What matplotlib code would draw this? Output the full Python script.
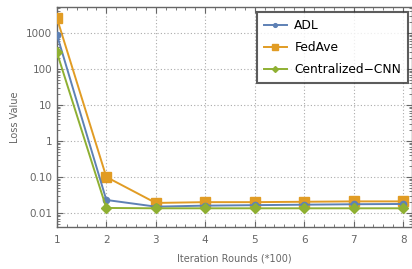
import numpy as np
import matplotlib
matplotlib.use("Agg")
import matplotlib.pyplot as plt
from matplotlib.ticker import FixedLocator, NullFormatter

rounds = [1, 2, 3, 4, 5, 6, 7, 8]
adl = [900, 0.023, 0.015, 0.016, 0.0165, 0.017, 0.0175, 0.0178]
fedave = [2600, 0.10, 0.019, 0.020, 0.020, 0.0205, 0.021, 0.021]
central = [290, 0.0138, 0.0135, 0.0135, 0.0135, 0.0135, 0.0135, 0.0135]

yticks = [0.01, 0.1, 1, 10, 100, 1000]
ytick_labels = ["0.01", "0.10", "1", "10", "100", "1000"]

gray = "#666666"
fig = plt.figure(figsize=(4.12, 2.69), dpi=100)
ax = fig.add_axes([0.138, 0.156, 0.862, 0.818])

ax.plot(rounds, adl, color="#5E81B5", marker="o", ms=4.5, lw=1.4, label="ADL", zorder=4)
ax.plot(rounds, fedave, color="#E19C24", marker="s", ms=7, lw=1.4, label="FedAve", zorder=3)
ax.plot(rounds, central, color="#8FB032", marker="D", ms=5, lw=1.4, label="Centralized\u2212CNN", zorder=5)

ax.set_yscale("log")
ax.set_xlim(1, 8.18)
ax.set_ylim(10 ** -2.39, 10 ** 3.72)
ax.set_xticks(rounds)
ax.xaxis.set_minor_locator(FixedLocator(np.arange(1, 8.2, 0.2)))
ax.set_yticks(yticks)
ax.set_yticklabels(ytick_labels)
ax.yaxis.set_minor_locator(FixedLocator(
    [m * 10.0 ** e for e in range(-3, 4) for m in range(2, 10)]))
ax.yaxis.set_minor_formatter(NullFormatter())

ax.grid(True, which="major", ls=(0, (1, 2)), color="#aaaaaa", lw=0.8)
ax.tick_params(which="both", direction="in", top=True, right=True,
               colors=gray, labelsize=7.5, labelcolor=gray)
ax.tick_params(which="major", length=4, width=0.8)
ax.tick_params(which="minor", length=2, width=0.6)
ax.tick_params(axis="x", pad=6)
for s in ax.spines.values():
    s.set_color(gray)
    s.set_linewidth(1.0)

ax.set_xlabel("Iteration Rounds (*100)", color=gray, fontsize=7, labelpad=6)
ax.set_ylabel("Loss Value", color=gray, fontsize=7, labelpad=4)

leg = ax.legend(loc="upper right", fontsize=8.8, frameon=True, fancybox=False,
                edgecolor="#333333", borderpad=0.55, labelspacing=0.75,
                handlelength=1.9, handletextpad=0.6, markerscale=0.6,
                borderaxespad=0.3, bbox_to_anchor=(0.999, 0.992))
leg.get_frame().set_linewidth(1.5)

fig.savefig("out.png", dpi=100)
